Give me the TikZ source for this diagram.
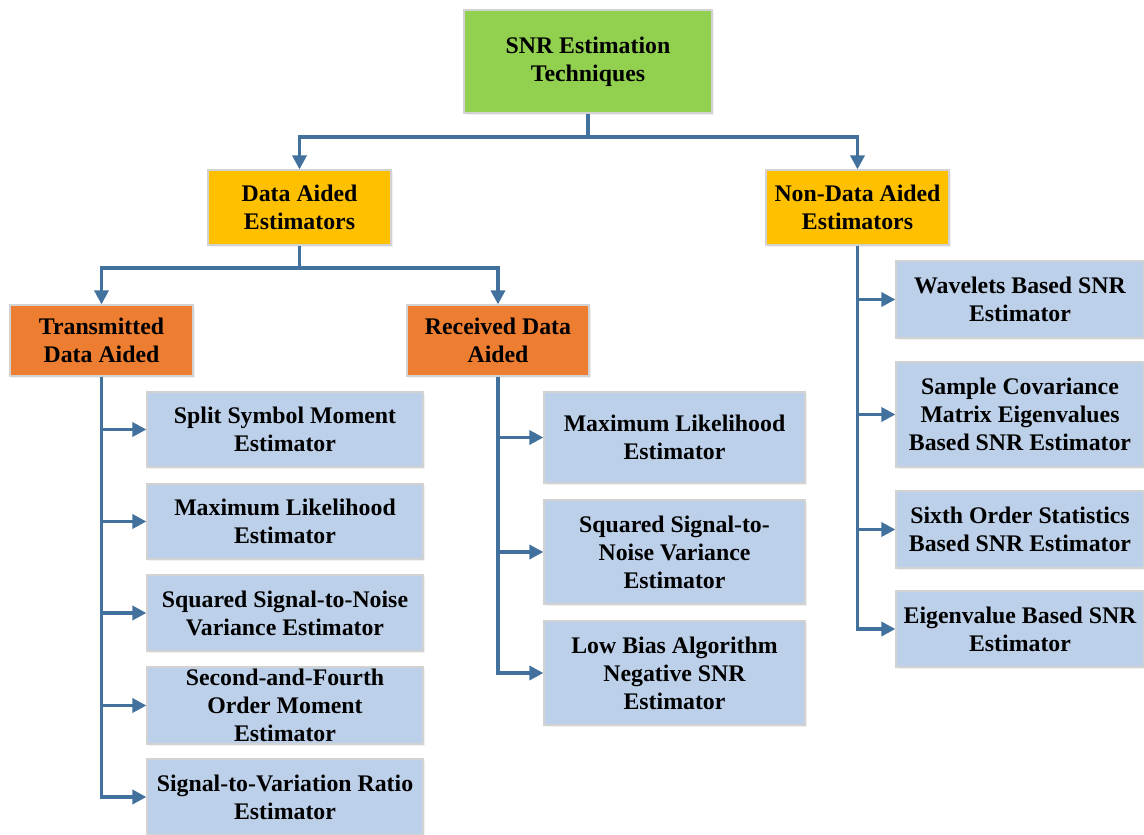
\documentclass[tikz,border=0pt]{standalone}
\usepackage{fontspec}
\setmainfont{Liberation Serif}
\usetikzlibrary{arrows.meta,shadows}

\definecolor{rootgreen}{RGB}{146,208,80}
\definecolor{aidyellow}{RGB}{255,192,0}
\definecolor{suborange}{RGB}{237,125,49}
\definecolor{leafblue}{RGB}{189,208,233}
\definecolor{linkblue}{RGB}{65,113,156}
\definecolor{edgegray}{RGB}{210,210,210}

\begin{document}
\begin{tikzpicture}[x=1pt,y=-1pt]
        \tikzstyle{every node}=[font=\bfseries\fontsize{23.8}{28}\selectfont]
        \tikzstyle{box}=[draw=edgegray, line width=1.2pt, align=center, inner sep=0pt,
            drop shadow={shadow xshift=1.5pt, shadow yshift=-1.5pt, opacity=0.12}]
        \tikzstyle{leaf}=[box, fill=leafblue]
        \tikzstyle{conn}=[draw=linkblue, line width=3.4pt, -{Triangle[length=14pt,width=14pt]}]

        \useasboundingbox (0,0) rectangle (1144,835);

        \node[box, fill=rootgreen, minimum width=248pt, minimum height=103pt] (root) at (588,61.5) {SNR Estimation\\Techniques};

        \node[box, fill=aidyellow, minimum width=183pt, minimum height=75pt] (da) at (299.5,207.5) {Data Aided\\Estimators};
        \node[box, fill=aidyellow, minimum width=183pt, minimum height=75pt] (nda) at (857.5,207.5) {Non-Data Aided\\Estimators};

        \node[box, fill=suborange, minimum width=183pt, minimum height=71pt] (tda) at (101.5,340.5) {Transmitted\\Data Aided};
        \node[box, fill=suborange, minimum width=182pt, minimum height=71pt] (rda) at (498,340.5) {Received Data\\Aided};

        % transmitted data aided
        \node[leaf, minimum width=276pt, minimum height=75pt] (t1) at (285,429.5) {Split Symbol Moment\\Estimator};
        \node[leaf, minimum width=276pt, minimum height=75pt] (t2) at (285,521.5) {Maximum Likelihood\\Estimator};
        \node[leaf, minimum width=276pt, minimum height=76pt] (t3) at (285,613) {Squared Signal-to-Noise\\Variance Estimator};
        \node[leaf, minimum width=276pt, minimum height=77pt] (t4) at (285,705.5) {Second-and-Fourth\\Order Moment\\Estimator};
        \node[leaf, minimum width=276pt, minimum height=76pt] (t5) at (285,797) {Signal-to-Variation Ratio\\Estimator};

        % received data aided
        \node[leaf, minimum width=261pt, minimum height=91pt] (r1) at (674.5,437.5) {Maximum Likelihood\\Estimator};
        \node[leaf, minimum width=261pt, minimum height=104pt] (r2) at (674.5,552) {Squared Signal-to-\\Noise Variance\\Estimator};
        \node[leaf, minimum width=261pt, minimum height=104pt] (r3) at (674.5,673) {Low Bias Algorithm\\Negative SNR\\Estimator};

        % non-data aided
        \node[leaf, minimum width=248pt, minimum height=77pt] (n1) at (1020,299.5) {Wavelets Based SNR\\Estimator};
        \node[leaf, minimum width=248pt, minimum height=105pt] (n2) at (1020,414.5) {Sample Covariance\\Matrix Eigenvalues\\Based SNR Estimator};
        \node[leaf, minimum width=248pt, minimum height=77pt] (n3) at (1020,529.5) {Sixth Order Statistics\\Based SNR Estimator};
        \node[leaf, minimum width=248pt, minimum height=76pt] (n4) at (1020,629) {Eigenvalue Based SNR\\Estimator};

        \draw[conn] (root.south) -- (root.south |- 0,137) -| (da.north);
        \draw[conn] (root.south) -- (root.south |- 0,137) -| (nda.north);
        \draw[conn] (da.south) -- (da.south |- 0,268) -| (tda.north);
        \draw[conn] (da.south) -- (da.south |- 0,268) -| (rda.north);

        \foreach \leafname in {t1,t2,t3,t4,t5}
            \draw[conn] (tda.south) |- (\leafname.west);
        \foreach \leafname in {r1,r2,r3}
            \draw[conn] (rda.south) |- (\leafname.west);
        \foreach \leafname in {n1,n2,n3,n4}
            \draw[conn] (nda.south) |- (\leafname.west);

    \end{tikzpicture}
\end{document}
